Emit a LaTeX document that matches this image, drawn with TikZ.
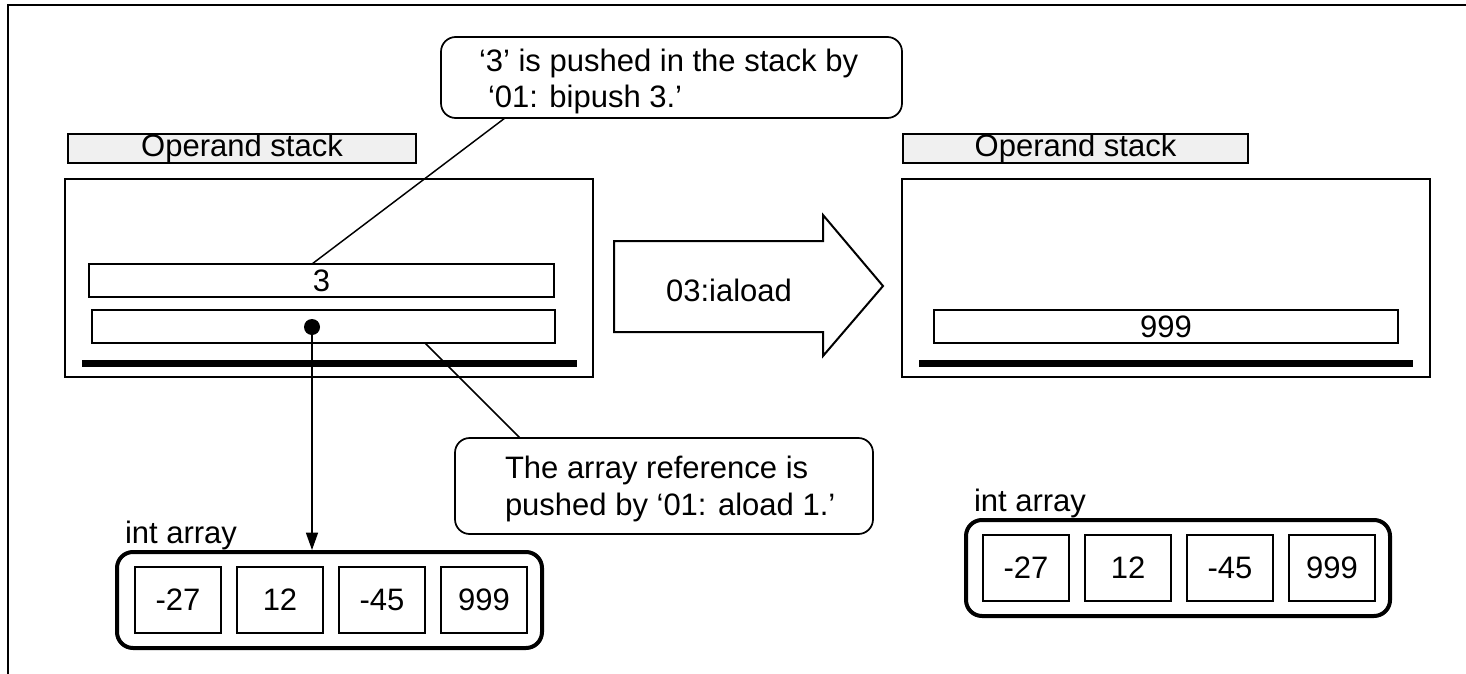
\documentclass[tikz,border=0pt]{standalone}
\usepackage{fontspec}
\setmainfont{Liberation Sans}
\usetikzlibrary{arrows.meta}
\begin{document}
\begin{tikzpicture}[x=0.75pt, y=-0.75pt,
  every node/.style={inner sep=0pt, outer sep=0pt},
  font=\fontsize{23.25}{28}\selectfont,
  size/.style 2 args={minimum width=#1*0.75pt, minimum height=#2*0.75pt},
  frameline/.style={line width=1.5pt},
  stackbox/.style={draw, line width=1.5pt, anchor=north west},
  slot/.style={draw, line width=1.5pt, anchor=north west},
  tagbox/.style={draw, line width=1.5pt, fill=black!6, anchor=north west},
  bar/.style={fill=black, anchor=north west},
  callout/.style={draw, line width=1.3pt, rounded corners=11pt, anchor=north west},
  leader/.style={line width=1.1pt},
  arrayframe/.style={draw, line width=3pt, rounded corners=12pt, anchor=north west},
  cell/.style={draw, line width=1.2pt, anchor=north west, size={86}{66}},
  caption/.style={anchor=base west},
  bigarrow/.style={draw, line width=1.5pt, line join=miter},
]
\useasboundingbox (0,0) rectangle (1466,674);

% page frame (top and left edges only)
\draw[frameline] (8,674) -- (8,5) -- (1466,5);

% callout about the pushed constant
\node[callout, size={461}{81}] (c1) at (441,37) {};
\node[caption] (c1a) at (479,72) {‘3’ is pushed in the stack by};
\node[caption] (c1b) at (488,108) {‘01: bipush 3.’};

% operand stack before iaload
\node[tagbox, size={348}{29}] (tagA) at (68,134) {Operand stack};
\node[stackbox, size={528}{198}] (stA) at (65,179) {};
\node[slot, size={465}{33}] (top) at (89,264) {3};
\node[slot, size={463}{33}] (ref) at (92,310) {};
\node[bar, size={495}{7}] (barA) at (82,360) {};
\node[circle, fill=black, minimum size=16*0.75pt] (dot) at (312,327) {};

% instruction arrow
\draw[bigarrow] (614,241) -- (823,241) -- (823,215) -- (883,286)
  -- (823,356) -- (823,332) -- (614,332) -- cycle;
\node (op) at (729,290) {03:iaload};

% operand stack after iaload
\node[tagbox, size={345}{29}] (tagB) at (903,134) {Operand stack};
\node[stackbox, size={528}{198}] (stB) at (902,179) {};
\node[slot, size={464}{33}] (res) at (934,310) {999};
\node[bar, size={494}{7}] (barB) at (919,360) {};

% callout about the array reference
\node[callout, size={418}{96}] (c2) at (455,438) {};
\node[caption] (c2a) at (505,478) {The array reference is};
\node[caption] (c2b) at (505,515) {pushed by ‘01: aload 1.’};

% leader lines of the callouts
\coordinate (l1) at (505,118);
\draw[leader] (l1) -- (top.north -| dot);
\coordinate (l2a) at (425,343);
\coordinate (l2b) at (520,438);
\draw[leader] (l2a) -- (l2b);

% int array referenced by the stack slot
\node[caption] (lblA) at (125,543) {int array};
\node[arrayframe, size={425}{96}] (arrA) at (117,552) {};
\node[cell] (a1) at (135,567) {-27};
\node[cell] (a2) at (237,567) {12};
\node[cell] (a3) at (339,567) {-45};
\node[cell] (a4) at (441,567) {999};
\draw[leader, -{Triangle[length=13pt,width=9pt]}, shorten >=1.5pt]
  (dot) -- (arrA.north -| dot);

% int array after the load
\node[caption] (lblB) at (974,511) {int array};
\node[arrayframe, size={424}{96}] (arrB) at (966,520) {};
\node[cell] (b1) at (983,535) {-27};
\node[cell] (b2) at (1085,535) {12};
\node[cell] (b3) at (1187,535) {-45};
\node[cell] (b4) at (1289,535) {999};
\end{tikzpicture}
\end{document}
